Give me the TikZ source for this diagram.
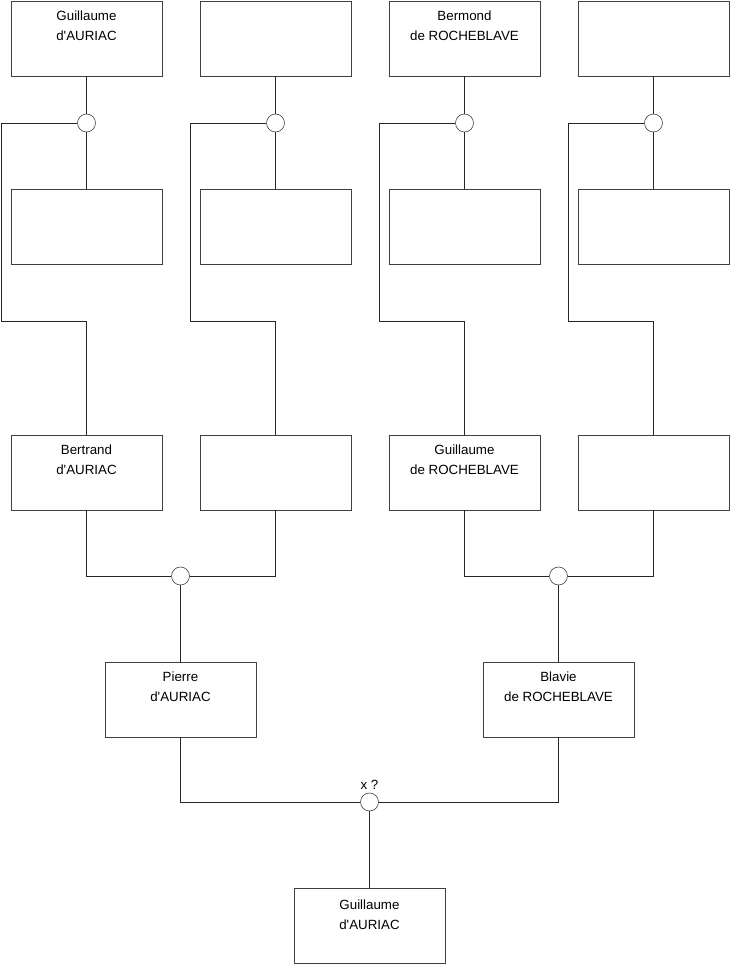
\documentclass[tikz,border=0pt]{standalone}
\usepackage{fontspec}
\setmainfont{Liberation Sans}
\usetikzlibrary{positioning, calc}

\begin{document}
\begin{tikzpicture}[x=0.75pt, y=-0.75pt,
  pbox/.style={draw=black!75, minimum width=113.25pt, minimum height=56.25pt, inner sep=0pt},
  knot/.style={draw=black!80, fill=white, circle, minimum size=13.5pt, inner sep=0pt},
  ptext/.style={align=center, font=\fontsize{10}{15.5}\selectfont},
  link/.style={draw=black!85, line width=0.6pt}]

\useasboundingbox (0,0) rectangle (740,975);

% four upper generations
\foreach \i/\x in {1/86.5, 2/275.5, 3/464.5, 4/653.5} {
  \node[pbox] (t\i) at (\x,38.5) {};
  \node[pbox] (m\i) at (\x,227) {};
  \node[pbox] (g\i) at (\x,472.5) {};
  \node[knot] (c\i) at (\x,123) {};
  \coordinate (k\i) at (\x-85.5,321);
  \draw[link] (t\i) -- (c\i);
  \draw[link] (c\i) -- (m\i);
  \draw[link] (c\i.west) -| (k\i) -| (g\i.north);
}

% parents and child
\node[knot] (c5) at (180.5,576) {};
\node[knot] (c6) at (558.5,576) {};
\node[pbox] (p1) at (180.5,699.5) {};
\node[pbox] (p2) at (558.5,699.5) {};
\node[knot] (c7) at (369.5,802) {};
\node[pbox] (ch) at (369.5,925.5) {};

\draw[link] (g1.south) |- (c5.west);
\draw[link] (g2.south) |- (c5.east);
\draw[link] (g3.south) |- (c6.west);
\draw[link] (g4.south) |- (c6.east);
\draw[link] (c5) -- (p1);
\draw[link] (c6) -- (p2);
\draw[link] (p1.south) |- (c7.west);
\draw[link] (p2.south) |- (c7.east);
\draw[link] (c7) -- (ch);

% names
\node[ptext] at ($(t1.north)+(0,25)$) {Guillaume\\d\textquotesingle AURIAC};
\node[ptext] at ($(t3.north)+(0,25)$) {Bermond\\de ROCHEBLAVE};
\node[ptext] at ($(g1.north)+(0,25)$) {Bertrand\\d\textquotesingle AURIAC};
\node[ptext] at ($(g3.north)+(0,25)$) {Guillaume\\de ROCHEBLAVE};
\node[ptext] at ($(p1.north)+(0,25)$) {Pierre\\d\textquotesingle AURIAC};
\node[ptext] at ($(p2.north)+(0,25)$) {Blavie\\de ROCHEBLAVE};
\node[ptext] at ($(ch.north)+(0,27)$) {Guillaume\\d\textquotesingle AURIAC};
\node[ptext] at ($(c7.north)+(0,-8)$) {x ?};

\end{tikzpicture}
\end{document}
